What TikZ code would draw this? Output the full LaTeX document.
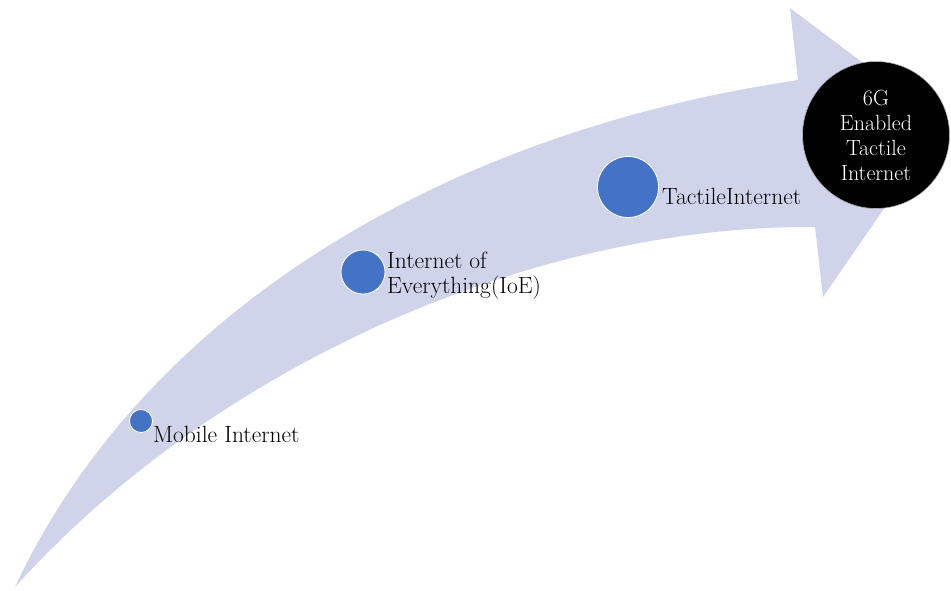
\documentclass[tikz,border=0pt]{standalone}
\definecolor{band}{RGB}{207,212,234}
\definecolor{dotblue}{RGB}{68,114,196}
\tikzset{
  dot/.style={circle, fill=dotblue, draw=white, line width=0.8pt, inner sep=0pt},
  lbl/.style={inner sep=0pt, anchor=base west, font=\fontsize{23.5}{25}\selectfont, text=black, align=left},
  goal/.style={circle, fill=black, draw=gray!60, line width=0.6pt, inner sep=0pt, minimum size=147pt,
    text=white, align=center, font=\fontsize{22}{25}\selectfont}
}
\begin{document}
\begin{tikzpicture}[x=1pt,y=-1pt]
\useasboundingbox (0,0) rectangle (951,590);
% curved arrow band
\fill[band] (15,587) .. controls (140,320) and (430,135) .. (798,80)
  -- (790,8) -- (943,123) -- (823,297) -- (815,227)
  .. controls (540,225) and (220,360) .. (15,587) -- cycle;
% stage dots
\node[dot, minimum size=23pt] (m) at (141,421) {};
\node[dot, minimum size=44pt] (ioe) at (363,272) {};
\node[dot, minimum size=61pt] (ti) at (628,187) {};
% labels
\node[lbl] (ml) at (153,442) {Mobile Internet};
\node[lbl] (il) at (387,293) {Internet of\\Everything(IoE)};
\node[lbl] (tl) at (662,204) {TactileInternet};
% goal circle
\node[goal] (g) at (876,135) {6G\\Enabled\\Tactile\\Internet};
\end{tikzpicture}
\end{document}
